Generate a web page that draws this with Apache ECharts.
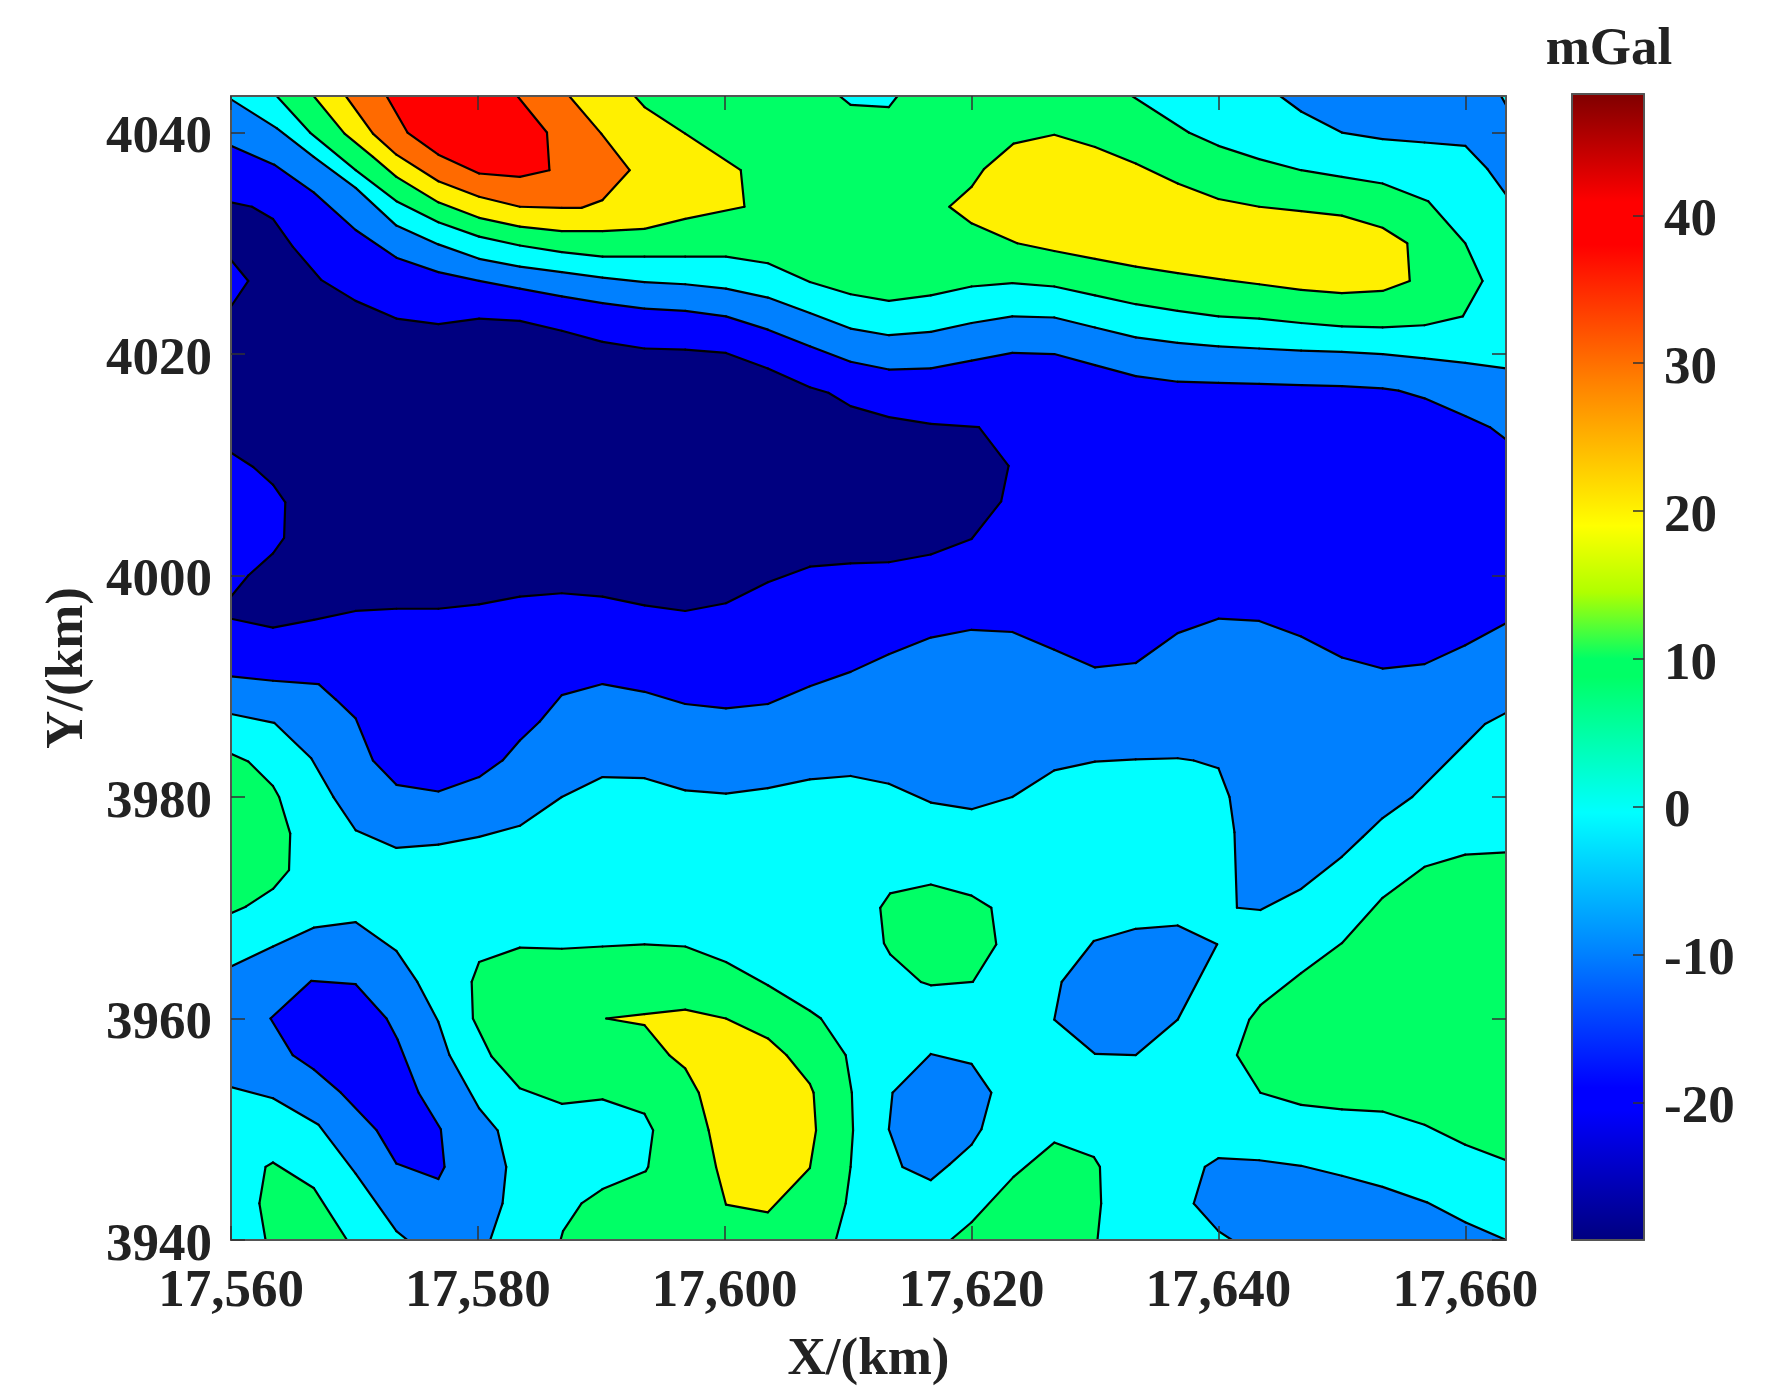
<!DOCTYPE html>
<html>
<head>
<meta charset="utf-8">
<title>mGal contour</title>
<script src="https://cdn.jsdelivr.net/npm/echarts@6/dist/echarts.min.js"></script>
<style>
html, body { margin: 0; padding: 0; background: #fff; }
#chart { width: 1768px; height: 1398px; }
</style>
</head>
<body>
<div id="chart"></div>
<script>
// axis ranges and ticks (km)
const xMin = 17560, xMax = 17663.3;
const yMin = 3940, yMax = 4043.3;
const xTicks = [17560, 17580, 17600, 17620, 17640, 17660];
const yTicks = [3940, 3960, 3980, 4000, 4020, 4040];
const barMin = -29.3, barMax = 48.2;
const barTicks = [-20, -10, 0, 10, 20, 30, 40];

// colorbar stops: value (mGal) and colour
const barValues = [48.2, 40.9, 38, 28.8, 19, 14.5, 10, 8.8, -0.4, -5.2, -10, -19, -20.5, -29.3];
const barColors = ['#800000', '#ff0000', '#ff0000', '#ff8000', '#ffff00', '#b0ff00', '#00ff66', '#00ff66', '#00ffff', '#00c0ff', '#0080ff', '#0000ff', '#0000ff', '#000080'];

// band colours
const cCyan = '#00ffff', cMid = '#0080ff', cBlue = '#0000ff', cNavy = '#000080';
const cGreen = '#00ff66', cYellow = '#fff000', cOrange = '#ff6a00', cRed = '#ff0000';

// contour rings, [x km, y km]
const ringWhole = [[xMin, yMin], [xMax, yMin], [xMax, yMax], [xMin, yMax]];
const ringMidMain = [[17560, 4043], [17563.7, 4040.4], [17566.7, 4037.8], [17570.1, 4035], [17573.4, 4031.6], [17576.8, 4029.9], [17580.1, 4028.6], [17583.4, 4027.9], [17586.8, 4027.4], [17590.1, 4026.9], [17593.5, 4026.5], [17596.8, 4026.3], [17600.1, 4025.9], [17603.5, 4025.1], [17606.9, 4023.7], [17610.2, 4022.3], [17613.3, 4021.7], [17616.7, 4022], [17620, 4022.8], [17623.3, 4023.4], [17626.7, 4023.3], [17630, 4022.4], [17633.3, 4021.5], [17636.7, 4021], [17640, 4020.7], [17643.3, 4020.5], [17646.7, 4020.3], [17650, 4020.2], [17653.3, 4020], [17656.7, 4019.6], [17660, 4019.2], [17663.3, 4018.7],
  [17663.3, 3987.6], [17661.6, 3986.6], [17660, 3984.8], [17655.7, 3980], [17653.3, 3978.1], [17651.7, 3976.4], [17650, 3974.6], [17646.7, 3971.7], [17643.4, 3969.8], [17641.5, 3970], [17641.3, 3976.8], [17640.9, 3980], [17640, 3982.6], [17638, 3983.3], [17636.7, 3983.5], [17633.3, 3983.4], [17630, 3983.2], [17626.7, 3982.4], [17623.3, 3980], [17620, 3978.9], [17616.7, 3979.5], [17613.3, 3981.2], [17610.2, 3981.9], [17606.9, 3981.6], [17603.5, 3980.8], [17600.1, 3980.3], [17596.8, 3980.6], [17593.5, 3981.7], [17590.1, 3981.8], [17586.8, 3980], [17583.4, 3977.4], [17580.1, 3976.4], [17576.8, 3975.7], [17573.4, 3975.4], [17570.1, 3977], [17568.3, 3980], [17566.5, 3983.5], [17563.5, 3986.7], [17560, 3987.5]];
const ringBlueMain = [[17560, 4038.8], [17563.5, 4037.1], [17566.7, 4034.6], [17570.1, 4031.2], [17573.4, 4028.7], [17576.8, 4027.4], [17580.1, 4026.6], [17583.4, 4025.9], [17586.8, 4025.2], [17590.1, 4024.6], [17593.5, 4024.1], [17596.8, 4023.9], [17600.1, 4023.4], [17603.5, 4022.2], [17606.9, 4020.7], [17610.2, 4019.3], [17613.3, 4018.6], [17616.7, 4018.7], [17620, 4019.4], [17623.3, 4020.1], [17626.7, 4020], [17630, 4019], [17633.3, 4018], [17636.7, 4017.5], [17640, 4017.4], [17643.3, 4017.3], [17646.7, 4017.2], [17650, 4017.1], [17653.3, 4016.9], [17654.6, 4016.7], [17656.7, 4016], [17660, 4014.4], [17662, 4013.4], [17663.3, 4012.3],
  [17663.3, 3995.7], [17660, 3993.7], [17656.7, 3992], [17653.3, 3991.6], [17650, 3992.6], [17646.7, 3994.5], [17643.3, 3995.9], [17640, 3996.1], [17636.7, 3994.8], [17633.3, 3992.1], [17630, 3991.7], [17626.7, 3993.3], [17623.3, 3994.9], [17620, 3995.1], [17616.7, 3994.4], [17613.3, 3992.9], [17610.2, 3991.3], [17606.9, 3990], [17603.5, 3988.4], [17600.1, 3988], [17596.8, 3988.4], [17593.5, 3989.5], [17590.1, 3990.2], [17586.8, 3989.2], [17585, 3986.8], [17583.4, 3985.1], [17582, 3983.3], [17580.1, 3981.8], [17576.8, 3980.5], [17573.4, 3981.1], [17571.5, 3983.3], [17570.1, 3987.1], [17568.5, 3988.8], [17567.1, 3990.2], [17563.4, 3990.5], [17560, 3990.9]];
const ringNavy = [[17560, 4033.7], [17561.7, 4033.3], [17563.4, 4032.2], [17565, 4029.7], [17567.3, 4026.7], [17570.1, 4024.8], [17573.4, 4023.2], [17576.8, 4022.7], [17580.1, 4023.2], [17583.4, 4023], [17586.8, 4022.1], [17590.1, 4021.1], [17593.5, 4020.5], [17596.8, 4020.4], [17600.1, 4020.1], [17603.5, 4018.7], [17606.9, 4017], [17608.4, 4016.5], [17610.2, 4015.3], [17613.3, 4014.3], [17616.7, 4013.7], [17620.6, 4013.4], [17623, 4009.9], [17622.4, 4006.7], [17620, 4003.3], [17616.7, 4001.9], [17613.3, 4001.2], [17610.2, 4001.1], [17606.9, 4000.8], [17603.5, 3999.4], [17600.1, 3997.5], [17596.8, 3996.8], [17593.5, 3997.3], [17590.1, 3998.1], [17586.8, 3998.4], [17583.4, 3998.1], [17580.1, 3997.4], [17576.8, 3997], [17573.4, 3997], [17570.1, 3996.8], [17566.7, 3996], [17563.4, 3995.3], [17560, 3996.1]];
const ringBlueLeftA = [[17560, 4028.5], [17561.4, 4026.6], [17560, 4024.3]];
const ringBlueLeftB = [[17560, 4011.1], [17561.8, 4009.8], [17563.4, 4008.2], [17564.4, 4006.6], [17564.3, 4003.4], [17563.4, 4002], [17561.4, 4000], [17560, 3998.1]];
const ringGreenTop = [[17563.7, 4043.3], [17566.4, 4040], [17570.1, 4036.6], [17573.4, 4033.8], [17576.8, 4031.9], [17580.1, 4030.6], [17583.4, 4029.8], [17586.8, 4029.2], [17590.1, 4028.8], [17593.5, 4028.8], [17596.8, 4028.8], [17600.1, 4028.8], [17603.5, 4028.2], [17606.9, 4026.5], [17610.2, 4025.4], [17613.3, 4024.8], [17616.7, 4025.3], [17620, 4026.1], [17623.3, 4026.4], [17626.7, 4026.1], [17630, 4025.3], [17633.3, 4024.5], [17636.7, 4023.9], [17640, 4023.4], [17643.3, 4023.2], [17646.7, 4022.8], [17650, 4022.5], [17653.3, 4022.4], [17656.7, 4022.6], [17659.8, 4023.4], [17661.4, 4026.6], [17660, 4030], [17657, 4033.8], [17653.3, 4035.4], [17650, 4036], [17646.7, 4036.6], [17643.3, 4037.6], [17640, 4038.8], [17637.6, 4040], [17633, 4043.3]];
const ringCyanTop = [[17609.3, 4043.3], [17610.2, 4042.5], [17613.3, 4042.3], [17614, 4043.3]];
const ringYellowTop = [[17566.7, 4043.3], [17569.2, 4039.9], [17571.5, 4037.8], [17573.4, 4036], [17576.8, 4033.7], [17580.1, 4032.3], [17583.4, 4031.5], [17586.8, 4031.1], [17590.1, 4031.1], [17593.5, 4031.3], [17596.8, 4032.2], [17601.6, 4033.3], [17601.3, 4036.6], [17596.8, 4039.9], [17593.5, 4042.3], [17592.7, 4043.3]];
const ringOrange = [[17569.3, 4043.3], [17571.5, 4039.9], [17573.4, 4038], [17576.8, 4035.6], [17580.1, 4034.2], [17583.4, 4033.3], [17586.8, 4033.2], [17588.4, 4033.2], [17590.1, 4033.9], [17592.3, 4036.6], [17590, 4039.9], [17587.4, 4043.3]];
const ringRed = [[17572.6, 4043.3], [17574.3, 4040], [17576.8, 4038], [17580.1, 4036.3], [17583.4, 4036], [17585.8, 4036.6], [17585.6, 4040], [17583.2, 4043.3]];
const ringYellowRight = [[17618.2, 4033.3], [17620, 4035.1], [17621, 4036.7], [17623.4, 4039], [17626.7, 4039.8], [17630, 4038.7], [17633.3, 4037.2], [17636.7, 4035.4], [17640, 4034], [17643.3, 4033.3], [17646.7, 4032.9], [17650, 4032.5], [17653.3, 4031.4], [17655.3, 4030], [17655.5, 4026.6], [17653.3, 4025.7], [17650, 4025.5], [17646.7, 4025.8], [17643.3, 4026.3], [17640.5, 4026.7], [17636.7, 4027.3], [17633.3, 4027.9], [17630, 4028.6], [17626.7, 4029.3], [17623.7, 4030], [17620, 4031.8]];
const ringMidCorner = [[17645, 4043.3], [17646.7, 4041.9], [17650, 4040], [17653.3, 4039.4], [17656.7, 4039.1], [17660, 4038.8], [17661.8, 4036.7], [17663.3, 4034.4], [17663.3, 4042.5], [17662.9, 4043.3]];
const ringGreenLeft = [[17560, 3983.9], [17561.4, 3983.2], [17563.4, 3981], [17563.9, 3980], [17564.8, 3976.7], [17564.7, 3973.4], [17563.4, 3971.7], [17561.2, 3970.1], [17560, 3969.5]];
const ringMidLow = [[17560, 3964.7], [17563.4, 3966.5], [17566.7, 3968.2], [17570.1, 3968.7], [17573.4, 3966.1], [17575.1, 3963.3], [17576.8, 3959.7], [17577.7, 3956.7], [17580.1, 3951.9], [17581.6, 3949.9], [17582.3, 3946.6], [17582, 3943.3], [17581, 3940], [17574.3, 3940], [17573.4, 3940.8], [17570.1, 3946], [17567.1, 3950.4], [17563.4, 3952.8], [17560, 3953.8]];
const ringBlueLow = [[17563.2, 3960], [17566.5, 3963.4], [17570.1, 3963.1], [17572.6, 3960], [17573.5, 3958.1], [17575.2, 3953.3], [17577, 3950], [17577.3, 3946.6], [17576.8, 3945.5], [17573.4, 3946.9], [17571.8, 3949.9], [17568.9, 3953.3], [17566.7, 3955.4], [17565, 3956.7]];
const ringGreenCorner = [[17563.4, 3947], [17566.7, 3944.7], [17569.4, 3940], [17562.8, 3940], [17562.3, 3943.3], [17562.8, 3946.6]];
const ringGreenBig = [[17580.1, 3965.1], [17583.4, 3966.4], [17586.8, 3966.3], [17590.1, 3966.5], [17593.5, 3966.7], [17596.8, 3966.5], [17600.1, 3965.1], [17603.5, 3963], [17606.9, 3960.7], [17607.8, 3960], [17609.8, 3956.7], [17610.3, 3953.3], [17610.4, 3949.9], [17610.2, 3946.6], [17609.8, 3943.3], [17609, 3940], [17586.7, 3940], [17586.9, 3940.8], [17588.4, 3943.3], [17590.1, 3944.6], [17593.6, 3946.2], [17593.8, 3946.6], [17594.2, 3949.9], [17593.5, 3951.4], [17590.1, 3952.7], [17586.8, 3952.3], [17583.4, 3953.7], [17581.1, 3956.6], [17579.6, 3960], [17579.5, 3963.3]];
const ringYellowLow = [[17590.4, 3960], [17593.5, 3960.4], [17596.8, 3960.8], [17600.1, 3960], [17603.5, 3958.2], [17605, 3956.7], [17606.9, 3954.1], [17607.2, 3953.3], [17607.4, 3949.9], [17606.9, 3946.5], [17603.5, 3942.5], [17600.1, 3943.2], [17599.3, 3946.6], [17598.7, 3949.9], [17597.9, 3953.3], [17596.8, 3955.5], [17595.5, 3956.7], [17593.5, 3959.4]];
const ringGreenSmall = [[17613.4, 3971.3], [17616.7, 3972.1], [17620, 3971.1], [17621.6, 3970], [17622, 3966.7], [17620.1, 3963.3], [17616.7, 3963], [17615.9, 3963.3], [17613.4, 3965.8], [17612.9, 3966.8], [17612.6, 3970]];
const ringMidIslandA = [[17629.9, 3967], [17633.3, 3968.1], [17636.7, 3968.4], [17639.9, 3966.7], [17636.7, 3959.9], [17633.3, 3956.7], [17630, 3956.8], [17626.7, 3959.9], [17627.3, 3963.3]];
const ringMidIslandB = [[17616.7, 3956.8], [17620, 3955.9], [17621.6, 3953.3], [17620.8, 3950], [17620, 3948.6], [17618.2, 3946.8], [17616.7, 3945.4], [17614.4, 3946.6], [17613.3, 3950], [17613.6, 3953.3]];
const ringGreenBottom = [[17626.7, 3948.8], [17629.9, 3947.5], [17630.4, 3946.6], [17630.5, 3943.3], [17630.2, 3940], [17618.3, 3940], [17620, 3941.6], [17623.4, 3945.7]];
const ringMidBottom = [[17640, 3947.4], [17643.3, 3947.2], [17646.7, 3946.7], [17650, 3945.8], [17653.3, 3944.8], [17656.9, 3943.4], [17660, 3941.6], [17663.3, 3940], [17641.1, 3940], [17640, 3940.8], [17638, 3943.3], [17638.9, 3946.6]];
const ringGreenRight = [[17663.3, 3975], [17660, 3974.8], [17656.7, 3973.7], [17653.3, 3970.9], [17650, 3966.8], [17646.7, 3964.1], [17643.4, 3961.2], [17642.5, 3959.9], [17641.5, 3956.7], [17643.4, 3953.3], [17646.7, 3952.2], [17650, 3951.8], [17653.3, 3951.6], [17656.7, 3950.4], [17660, 3948.6], [17663.3, 3947.2]];

// painted in this order
const layers = [
    [ringWhole, cCyan], [ringMidMain, cMid], [ringBlueMain, cBlue], [ringNavy, cNavy],
    [ringBlueLeftA, cBlue], [ringBlueLeftB, cBlue], [ringGreenTop, cGreen], [ringCyanTop, cCyan],
    [ringYellowTop, cYellow], [ringOrange, cOrange], [ringRed, cRed], [ringYellowRight, cYellow],
    [ringMidCorner, cMid], [ringGreenLeft, cGreen], [ringMidLow, cMid], [ringBlueLow, cBlue],
    [ringGreenCorner, cGreen], [ringGreenBig, cGreen], [ringYellowLow, cYellow], [ringGreenSmall, cGreen],
    [ringMidIslandA, cMid], [ringMidIslandB, cMid], [ringGreenBottom, cGreen], [ringMidBottom, cMid],
    [ringGreenRight, cGreen]
];

const FONT = 'Liberation Serif';
const SIZE = 53;
const textStyle = { fontFamily: FONT, fontWeight: 'bold', fontSize: SIZE, color: '#222' };
const frame = { show: true, onZero: false, lineStyle: { color: '#555', width: 2 } };
const tickIn = { show: true, inside: true, length: 14, lineStyle: { color: '#333', width: 1.5 } };

// segment lying on the frame gets no black line
function onFrame(a, b) {
    return (a[0] === b[0] && (a[0] === xMin || a[0] === xMax)) ||
           (a[1] === b[1] && (a[1] === yMin || a[1] === yMax));
}

function renderRing(params, api) {
    const ring = layers[params.dataIndex][0];
    const children = [{
        type: 'polygon',
        shape: { points: ring.map(p => api.coord(p)) },
        style: { fill: layers[params.dataIndex][1] }
    }];
    for (let i = 0; i < ring.length; i++) {
        const a = ring[i], b = ring[(i + 1) % ring.length];
        if (onFrame(a, b)) continue;
        children.push({
            type: 'line',
            shape: { x1: api.coord(a)[0], y1: api.coord(a)[1], x2: api.coord(b)[0], y2: api.coord(b)[1] },
            style: { stroke: '#000', lineWidth: 2.2, lineCap: 'round' }
        });
    }
    return { type: 'group', children: children };
}

function renderBar(params, api) {
    const a = api.coord([0, barMax]);
    const b = api.coord([1, barMin]);
    return {
        type: 'rect',
        shape: { x: a[0], y: a[1], width: b[0] - a[0], height: b[1] - a[1] },
        style: {
            fill: {
                type: 'linear', x: 0, y: 0, x2: 0, y2: 1,
                colorStops: barValues.map((v, i) => ({ offset: (barMax - v) / (barMax - barMin), color: barColors[i] }))
            }
        }
    };
}

const chart = echarts.init(document.getElementById('chart'), null, { renderer: 'canvas' });

chart.setOption({
    animation: false,
    backgroundColor: '#fff',
    title: {
        text: 'mGal', left: 1604, top: 19, textAlign: 'center',
        textStyle: textStyle
    },
    grid: [
        { left: 231, top: 96, width: 1275, height: 1144 },
        { left: 1572, top: 94, width: 72, height: 1146 }
    ],
    xAxis: [
        {
            type: 'value', gridIndex: 0, position: 'bottom', min: xMin, max: xMax, z: 10,
            name: 'X/(km)', nameLocation: 'middle', nameGap: 94, nameTextStyle: textStyle,
            axisLine: frame, axisTick: Object.assign({ customValues: xTicks }, tickIn), splitLine: { show: false },
            axisLabel: {
                customValues: xTicks, margin: 26, hideOverlap: false,
                formatter: v => String(v).replace(/(\d+)(\d{3})$/, '$1,$2'),
                fontFamily: FONT, fontWeight: 'bold', fontSize: SIZE, color: '#222'
            }
        },
        {
            type: 'value', gridIndex: 0, position: 'top', min: xMin, max: xMax, z: 10,
            axisLine: frame, axisTick: Object.assign({ customValues: xTicks }, tickIn),
            axisLabel: { show: false }, splitLine: { show: false }
        },
        {
            type: 'value', gridIndex: 1, position: 'bottom', min: 0, max: 1, z: 10,
            axisLine: frame, axisTick: { show: false }, axisLabel: { show: false }, splitLine: { show: false }
        },
        {
            type: 'value', gridIndex: 1, position: 'top', min: 0, max: 1, z: 10,
            axisLine: frame, axisTick: { show: false }, axisLabel: { show: false }, splitLine: { show: false }
        }
    ],
    yAxis: [
        {
            type: 'value', gridIndex: 0, position: 'left', min: yMin, max: yMax, z: 10,
            name: 'Y/(km)', nameLocation: 'middle', nameGap: 134, nameRotate: 90, nameTextStyle: textStyle,
            axisLine: frame, axisTick: Object.assign({ customValues: yTicks }, tickIn), splitLine: { show: false },
            axisLabel: {
                customValues: yTicks, margin: 19, hideOverlap: false, verticalAlign: 'top', lineHeight: 12,
                formatter: v => String(v),
                fontFamily: FONT, fontWeight: 'bold', fontSize: SIZE, color: '#222'
            }
        },
        {
            type: 'value', gridIndex: 0, position: 'right', min: yMin, max: yMax, z: 10,
            axisLine: frame, axisTick: Object.assign({ customValues: yTicks }, tickIn),
            axisLabel: { show: false }, splitLine: { show: false }
        },
        {
            type: 'value', gridIndex: 1, position: 'right', min: barMin, max: barMax, z: 10,
            axisLine: frame, axisTick: { show: true, inside: true, customValues: barTicks, length: 11, lineStyle: { color: '#333', width: 1.5 } },
            splitLine: { show: false },
            axisLabel: {
                customValues: barTicks, margin: 20, hideOverlap: false, verticalAlign: 'top', lineHeight: 12,
                fontFamily: FONT, fontWeight: 'bold', fontSize: SIZE, color: '#222'
            }
        },
        {
            type: 'value', gridIndex: 1, position: 'left', min: barMin, max: barMax, z: 10,
            axisLine: frame, axisTick: { show: false }, axisLabel: { show: false }, splitLine: { show: false }
        }
    ],
    series: [
        {
            type: 'custom', xAxisIndex: 0, yAxisIndex: 0, silent: true, clip: true,
            renderItem: renderRing,
            data: layers.map(l => l[0][0])
        },
        {
            type: 'custom', xAxisIndex: 2, yAxisIndex: 2, silent: true,
            renderItem: renderBar,
            data: [[0, barMin]]
        }
    ]
});

window.addEventListener('resize', function () {
    chart.resize();
});
</script>
</body>
</html>
